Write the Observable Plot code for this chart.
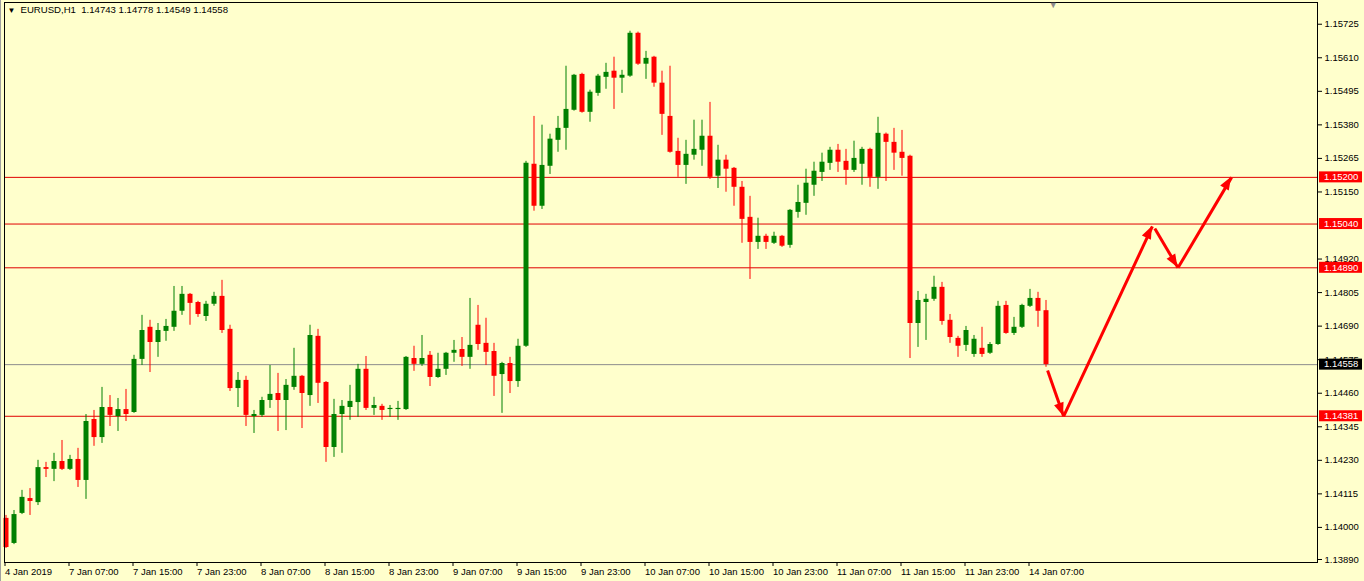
<!DOCTYPE html>
<html><head><meta charset="utf-8">
<script src="https://cdn.jsdelivr.net/npm/d3@7"></script>
<script src="https://cdn.jsdelivr.net/npm/@observablehq/plot@0.6"></script>
<style>
html,body{margin:0;padding:0;background:#ffffcc;}
#chart svg{display:block;}
</style></head><body><div id="chart"></div>
<script>
// ---- data ----
const symbolTitle = "EURUSD,H1";
const lastOHLC = [1.14743, 1.14778, 1.14549, 1.14558];

const open = [
1.14031,1.13945,1.14048,1.14099,1.14085,1.14205,1.14199,1.14226,1.14199,1.14233,
1.14161,1.14370,1.14308,1.14411,1.14380,1.14404,1.14394,1.14576,1.14686,1.14634,
1.14672,1.14686,1.14741,1.14799,1.14771,1.14723,1.14765,1.14792,1.14679,1.14476,
1.14504,1.14380,1.14384,1.14435,1.14459,1.14435,1.14480,1.14518,1.14452,1.14655,
1.14497,1.14274,1.14387,1.14411,1.14428,1.14542,1.14408,1.14415,1.14404,1.14404,
1.14404,1.14579,1.14559,1.14590,1.14514,1.14542,1.14597,1.14610,1.14583,1.14693,
1.14631,1.14603,1.14524,1.14562,1.14500,1.14621,1.15245,1.15101,1.15238,1.15327,
1.15368,1.15430,1.15553,1.15423,1.15488,1.15543,1.15564,1.15540,1.15547,1.15694,
1.15588,1.15612,1.15523,1.15409,1.15289,1.15241,1.15276,1.15293,1.15341,1.15204,
1.15259,1.15231,1.15166,1.15063,1.14977,1.14998,1.14974,1.14998,1.14967,1.15080,
1.15111,1.15173,1.15217,1.15248,1.15293,1.15255,1.15224,1.15245,1.15296,1.15200,
1.15348,1.15320,1.15286,1.15272,1.14699,1.14771,1.14782,1.14823,1.14710,1.14648,
1.14624,1.14593,1.14614,1.14597,1.14627,1.14761,1.14665,1.14686,1.14758,1.14785,
1.14743];
const high = [
1.14041,1.14058,1.14127,1.14133,1.14230,1.14223,1.14254,1.14298,1.14247,1.14271,
1.14387,1.14401,1.14480,1.14452,1.14442,1.14473,1.14590,1.14727,1.14710,1.14699,
1.14713,1.14826,1.14826,1.14802,1.14775,1.14775,1.14806,1.14847,1.14693,1.14531,
1.14518,1.14401,1.14446,1.14555,1.14528,1.14507,1.14614,1.14521,1.14693,1.14679,
1.14500,1.14439,1.14435,1.14487,1.14559,1.14586,1.14446,1.14422,1.14418,1.14432,
1.14586,1.14621,1.14658,1.14603,1.14597,1.14600,1.14641,1.14651,1.14785,1.14761,
1.14717,1.14631,1.14566,1.14583,1.14645,1.15255,1.15409,1.15379,1.15348,1.15409,
1.15581,1.15553,1.15557,1.15499,1.15553,1.15591,1.15612,1.15567,1.15701,1.15698,
1.15632,1.15615,1.15564,1.15581,1.15334,1.15327,1.15396,1.15396,1.15457,1.15310,
1.15276,1.15234,1.15186,1.15135,1.15060,1.15005,1.15012,1.15001,1.15090,1.15173,
1.15228,1.15252,1.15283,1.15303,1.15313,1.15296,1.15324,1.15303,1.15300,1.15406,
1.15352,1.15368,1.15361,1.15276,1.14809,1.14799,1.14861,1.14840,1.14730,1.14655,
1.14689,1.14658,1.14686,1.14634,1.14775,1.14775,1.14720,1.14765,1.14816,1.14806,
1.14778];
const low = [
1.13928,1.13941,1.14044,1.14041,1.14075,1.14171,1.14157,1.14195,1.14195,1.14137,
1.14096,1.14278,1.14288,1.14346,1.14329,1.14363,1.14391,1.14555,1.14531,1.14583,
1.14638,1.14672,1.14727,1.14693,1.14720,1.14706,1.14758,1.14665,1.14466,1.14411,
1.14346,1.14322,1.14377,1.14408,1.14329,1.14332,1.14470,1.14339,1.14415,1.14425,
1.14223,1.14240,1.14254,1.14367,1.14377,1.14401,1.14384,1.14367,1.14377,1.14367,
1.14401,1.14535,1.14552,1.14483,1.14511,1.14521,1.14566,1.14552,1.14542,1.14607,
1.14555,1.14449,1.14391,1.14459,1.14480,1.14617,1.15084,1.15090,1.15210,1.15286,
1.15293,1.15427,1.15420,1.15389,1.15478,1.15502,1.15433,1.15488,1.15543,1.15584,
1.15536,1.15509,1.15344,1.15283,1.15200,1.15176,1.15259,1.15238,1.15193,1.15162,
1.15149,1.15101,1.14974,1.14850,1.14953,1.14953,1.14970,1.14960,1.14957,1.15060,
1.15070,1.15135,1.15186,1.15224,1.15217,1.15173,1.15217,1.15173,1.15166,1.15159,
1.15186,1.15224,1.15204,1.14579,1.14617,1.14641,1.14775,1.14693,1.14631,1.14583,
1.14603,1.14583,1.14583,1.14593,1.14624,1.14662,1.14658,1.14682,1.14754,1.14686,
1.14549];
const close = [
1.13931,1.14044,1.14103,1.14089,1.14205,1.14199,1.14226,1.14199,1.14233,1.14161,
1.14363,1.14308,1.14411,1.14384,1.14404,1.14387,1.14576,1.14675,1.14634,1.14675,
1.14689,1.14741,1.14799,1.14768,1.14730,1.14765,1.14792,1.14675,1.14476,1.14504,
1.14384,1.14387,1.14435,1.14456,1.14435,1.14487,1.14518,1.14459,1.14658,1.14494,
1.14274,1.14387,1.14415,1.14432,1.14542,1.14408,1.14418,1.14401,1.14408,1.14408,
1.14583,1.14559,1.14579,1.14514,1.14542,1.14597,1.14607,1.14583,1.14624,1.14627,
1.14600,1.14518,1.14562,1.14500,1.14621,1.15248,1.15101,1.15241,1.15331,1.15368,
1.15433,1.15550,1.15423,1.15492,1.15547,1.15560,1.15540,1.15550,1.15694,1.15588,
1.15608,1.15523,1.15416,1.15286,1.15241,1.15279,1.15296,1.15341,1.15200,1.15259,
1.15228,1.15166,1.15056,1.14977,1.14998,1.14977,1.14998,1.14964,1.15087,1.15114,
1.15180,1.15221,1.15252,1.15293,1.15252,1.15224,1.15265,1.15296,1.15200,1.15351,
1.15320,1.15283,1.15265,1.14699,1.14778,1.14782,1.14823,1.14706,1.14651,1.14621,
1.14675,1.14645,1.14593,1.14627,1.14758,1.14665,1.14686,1.14761,1.14785,1.14741,
1.14558];

const timeTickIndex = [0,8,16,24,32,40,48,56,64,72,80,88,96,104,112,120,128];
const timeTickLabels = ["4 Jan 2019","7 Jan 07:00","7 Jan 15:00","7 Jan 23:00","8 Jan 07:00",
  "8 Jan 15:00","8 Jan 23:00","9 Jan 07:00","9 Jan 15:00","9 Jan 23:00","10 Jan 07:00",
  "10 Jan 15:00","10 Jan 23:00","11 Jan 07:00","11 Jan 15:00","11 Jan 23:00","14 Jan 07:00"];
// price scale labels (1.15035 sits fully under the 1.15040 line label, so it is not printed)
const priceTicks = [1.15725,1.15610,1.15495,1.15380,1.15265,1.15150,1.14920,1.14805,
  1.14690,1.14575,1.14460,1.14345,1.14230,1.14115,1.14000,1.13890];
const levelLines = [1.15200,1.15040,1.14890,1.14381];
const bidLine = 1.14558;
const arrowFromX = [130.2,132.2,143.6,146.5];
const arrowFromY = [1.14538,1.14381,1.15025,1.14890];
const arrowToX   = [132.2,143.3,146.5,153.2];
const arrowToY   = [1.14381,1.15032,1.14890,1.15200];

// ---- build ----
const UP = "#008000", DOWN = "#ff0000";
const bars = open.map((o, i) => ({i, o, h: high[i], l: low[i], c: close[i], col: close[i] >= o ? UP : DOWN}));
const arrows = arrowFromX.map((x, k) => ({x1: x, y1: arrowFromY[k], x2: arrowToX[k], y2: arrowToY[k]}));
const title = `${symbolTitle}  ${lastOHLC.map(v => v.toFixed(5)).join(" ")}`;
const FONT = "'Liberation Sans', Arial, sans-serif";

const plot = Plot.plot({
  width: 1364, height: 581,
  marginLeft: 4, marginRight: 47, marginTop: 2, marginBottom: 19,
  style: {background: "#ffffcc", fontFamily: FONT, fontSize: "9.5px", color: "#000"},
  x: {type: "linear", domain: [-0.1875, 163.9375]},
  y: {type: "linear", domain: [1.138797, 1.157995]},
  marks: [
    Plot.ruleY([bidLine], {stroke: "#8c8c8c", strokeWidth: 1}),
    Plot.ruleY(levelLines, {stroke: "#e00000", strokeWidth: 1}),
    Plot.ruleX(bars, {x: "i", y1: "l", y2: "h", stroke: "col", strokeWidth: 1}),
    Plot.ruleX(bars, {x: "i", y1: "o", y2: "c", stroke: "col", strokeWidth: 5}),
    Plot.link(arrows, {x1: "x1", y1: "y1", x2: "x2", y2: "y2", stroke: "#ff0000", strokeWidth: 3}),
    Plot.frame({stroke: "#000", strokeWidth: 1}),
    Plot.axisY(priceTicks, {anchor: "right", tickSize: 4, tickPadding: 3, tickFormat: d => d.toFixed(5), fontSize: 9.5}),
    Plot.axisX(timeTickIndex, {anchor: "bottom", tickSize: 4, tickPadding: 2, textAnchor: "start", dx: -1,
      tickFormat: d => timeTickLabels[timeTickIndex.indexOf(d)], fontSize: 9.5}),
    Plot.text([open.length], {x: d => d - 0.1, frameAnchor: "top", text: () => "▼", fill: "#8c8c8c", fontSize: 9, dy: -1}),
    Plot.text(["▼"], {frameAnchor: "top-left", dx: 3, dy: 5, fontSize: 8, fill: "#000"}),
    Plot.text([title], {frameAnchor: "top-left", dx: 16, dy: 4, textAnchor: "start", fontSize: 9.6, fill: "#000"})
  ]
});

const xs = plot.scale("x"), ys = plot.scale("y");
const svg = d3.select(plot);

// filled arrow heads, placed with the plot's own scales
const heads = svg.append("g").attr("fill", "#ff0000");
for (const a of arrows) {
  const x1 = xs.apply(a.x1), y1 = ys.apply(a.y1), x2 = xs.apply(a.x2), y2 = ys.apply(a.y2);
  const ang = Math.atan2(y2 - y1, x2 - x1), L = 13, W = 5;
  const bx = x2 - L * Math.cos(ang), by = y2 - L * Math.sin(ang);
  const px = -Math.sin(ang) * W, py = Math.cos(ang) * W;
  heads.append("polygon").attr("points", `${x2},${y2} ${bx + px},${by + py} ${bx - px},${by - py}`);
}

// price label boxes on the right axis
const xr = 1364 - 47;
const boxes = levelLines.map(v => ({v, bg: "#ff0000"})).concat([{v: bidLine, bg: "#000000"}]);
const g = svg.append("g").attr("font-family", FONT).attr("font-size", "9.5px").attr("text-anchor", "start");
for (const b of boxes) {
  const y = ys.apply(b.v);
  g.append("rect").attr("x", xr + 2).attr("y", y - 5.5).attr("width", 43).attr("height", 11).attr("fill", b.bg);
  g.append("text").attr("x", xr + 7).attr("y", y).attr("dy", "0.34em").attr("fill", "#fff").text(b.v.toFixed(5));
}
// outer window edge on the left
svg.append("line").attr("x1", 0.5).attr("x2", 0.5).attr("y1", 0).attr("y2", 581).attr("stroke", "#a0a0a0");
document.getElementById("chart").append(plot);
</script></body></html>
